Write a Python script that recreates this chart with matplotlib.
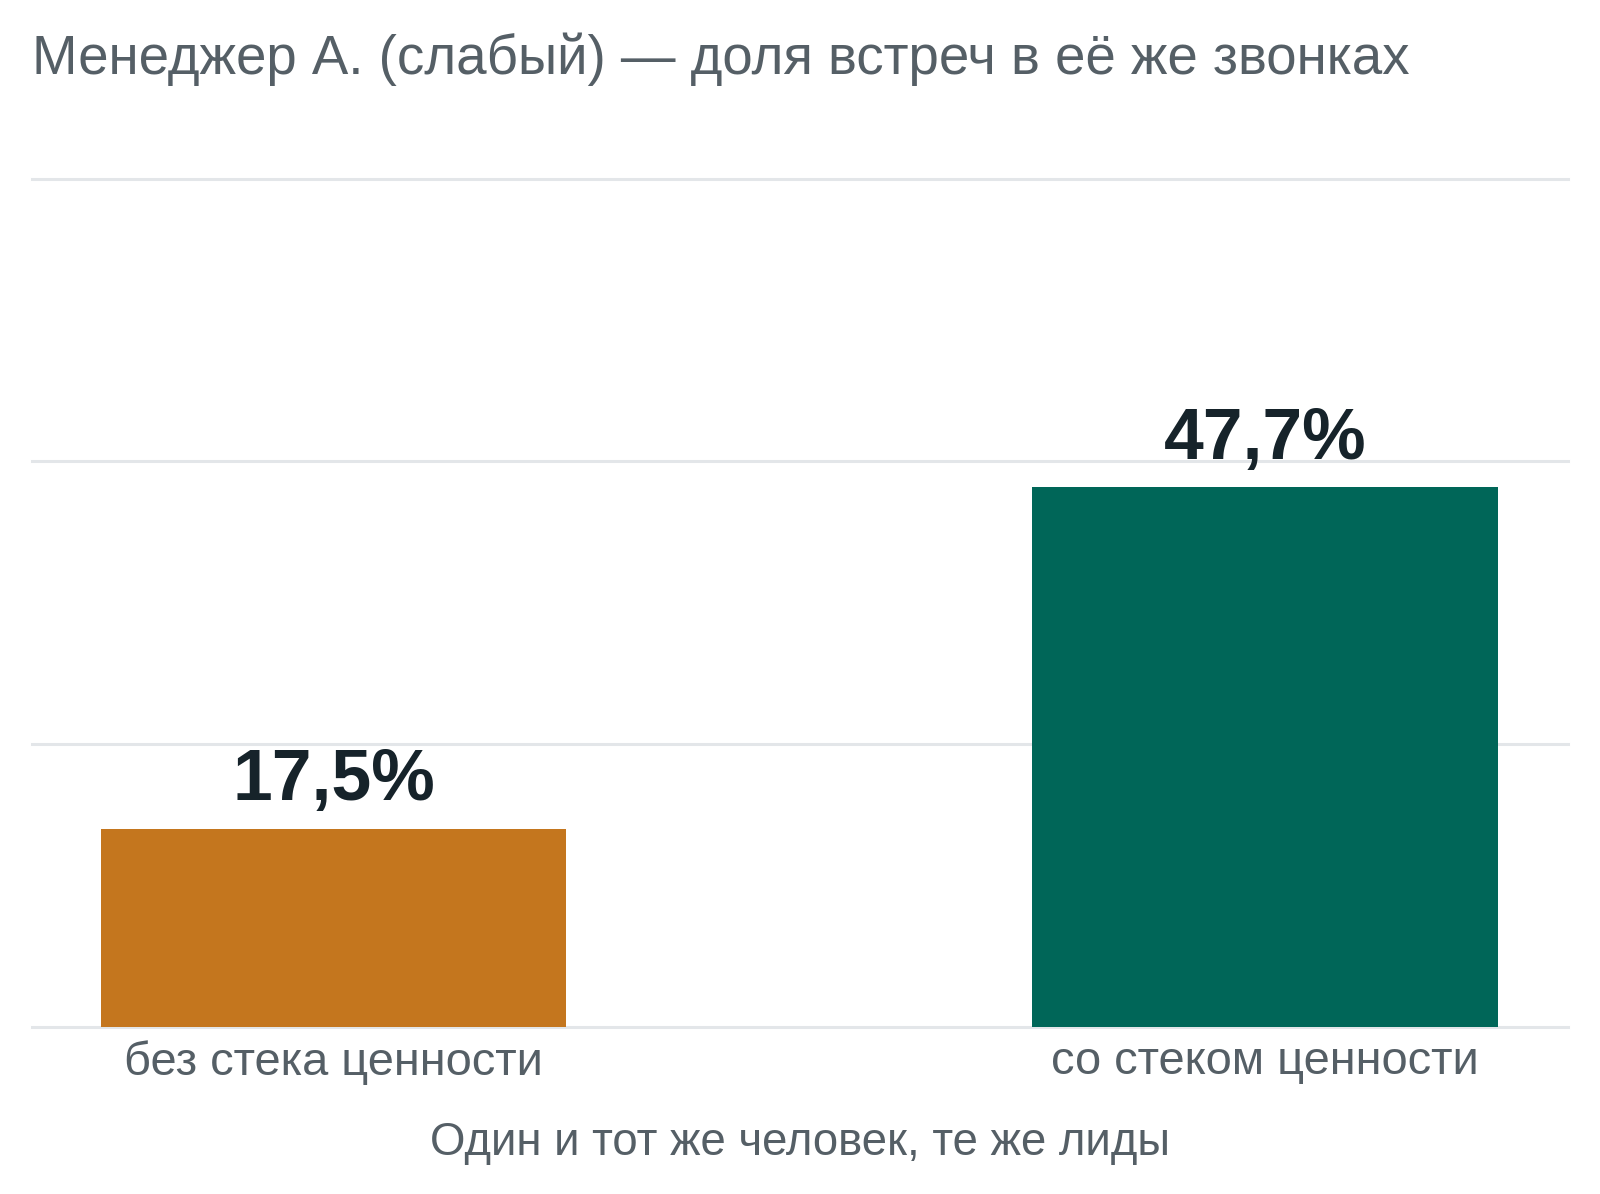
import matplotlib
matplotlib.use("Agg")
import matplotlib.pyplot as plt

categories = ["без стека ценности", "со стеком ценности"]
values = [17.5, 47.7]
value_labels = ["17,5%", "47,7%"]
colors = ["#C4761E", "#006658"]
title = "Менеджер А. (слабый) — доля встреч в её же звонках"
xlabel = "Один и тот же человек, те же лиды"
y_ticks = [0, 25, 50, 75]

plt.rcParams['font.family'] = ['Liberation Sans', 'DejaVu Sans']

W, H = 1600, 1194
fig = plt.figure(figsize=(W / 100, H / 100), dpi=100)
left, right, top, bottom = 31.6, 1568, 178.6, 1026.5
ax = fig.add_axes([left / W, 1 - bottom / H, (right - left) / W, (bottom - top) / H])

x = list(range(len(categories)))
ax.bar(x, values, width=0.5, color=colors, zorder=3)
ax.set_xlim(-0.324, 1.325)
ax.set_ylim(0, 75)
ax.set_yticks(y_ticks)
ax.yaxis.grid(True, color="#e3e6e9", linewidth=2.2, zorder=0)
for gl in ax.get_ygridlines():
    gl.set_clip_on(False)
ax.tick_params(axis='y', left=False, labelleft=False)
ax.tick_params(axis='x', bottom=False, pad=6.5, labelsize=33.8, labelcolor="#555f66")
ax.set_xticks(x)
ax.set_xticklabels(categories)
for s in ax.spines.values():
    s.set_visible(False)

for xi, v, lab in zip(x, values, value_labels):
    ax.annotate(lab, (xi, v), xytext=(0, 20.5), textcoords='offset points',
                ha='center', va='baseline', fontsize=51.5, fontweight='bold',
                color="#16232a", zorder=4)

fig.text(left / W, 1 - 73.5 / H, title, ha='left', va='baseline', fontsize=39.3, color="#555f66")
fig.text((left + right) / 2 / W, 1 - 1155 / H, xlabel, ha='center', va='baseline', fontsize=32.8, color="#555f66")

fig.savefig("out.png", dpi=100, facecolor="white")
